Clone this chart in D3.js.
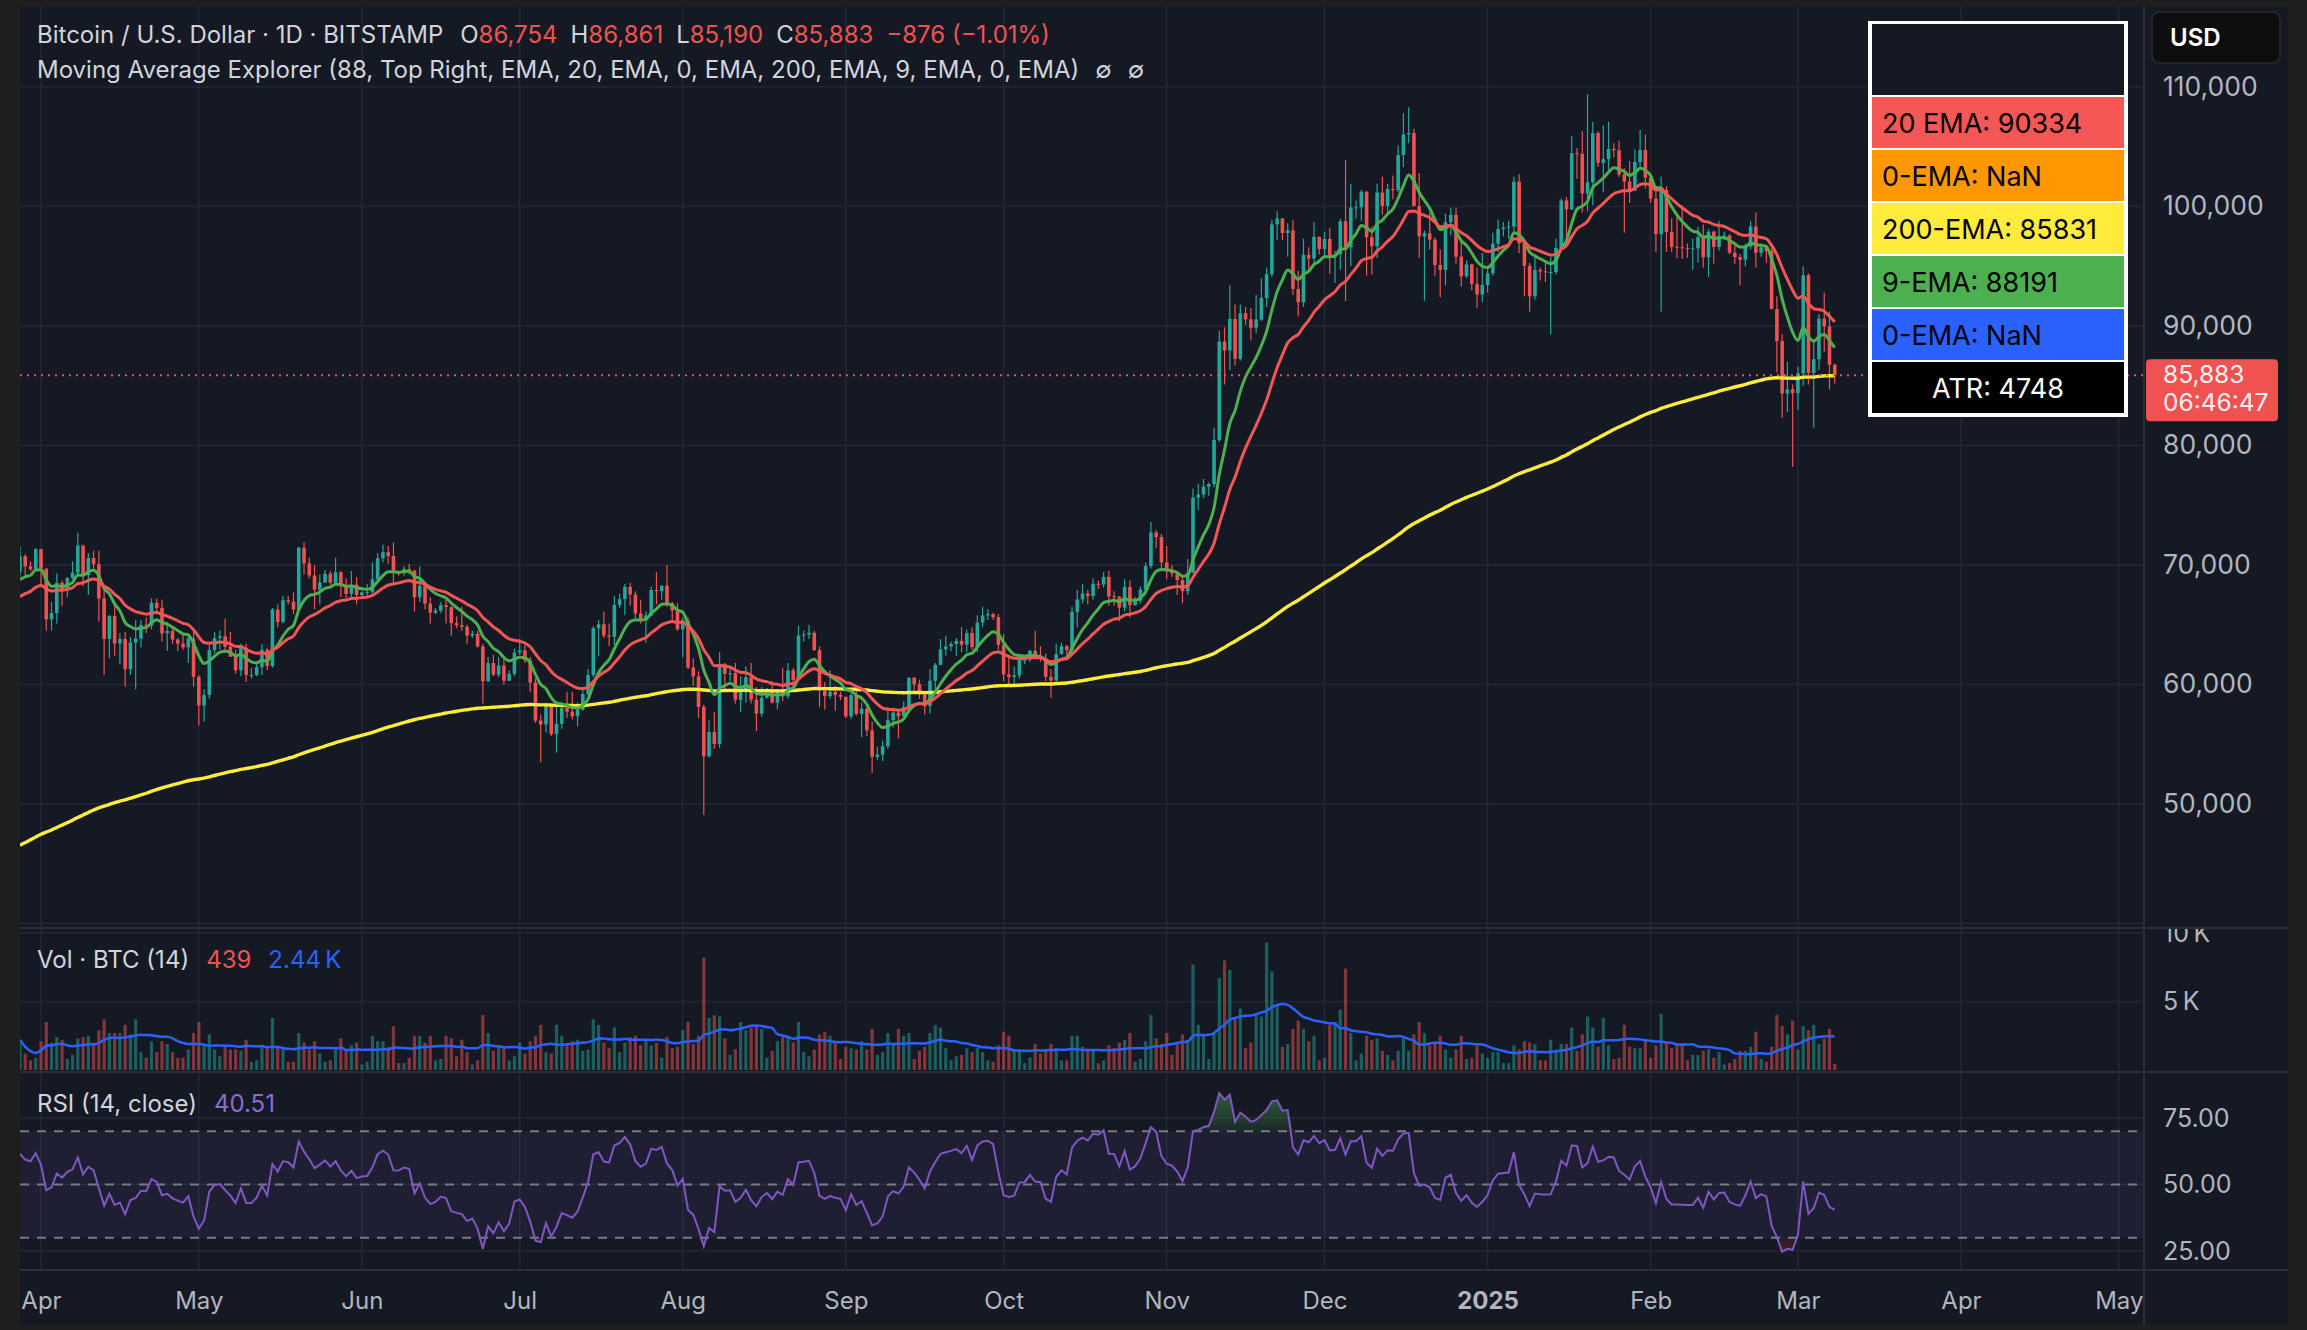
<!DOCTYPE html>
<html>
<head>
<meta charset="utf-8">
<script src="https://cdn.jsdelivr.net/npm/d3@7"></script>
<style>
  html, body { margin: 0; padding: 0; background: #1e1e1f; }
  svg { display: block; font-family: Inter, "Noto Sans", sans-serif; }
</style>
</head>
<body>
<svg id="chart" width="2307" height="1330"></svg>
<script>
// ---- data (daily BTC/USD, Bitstamp, 2024-03-28 .. 2025-03-08), prices in thousands ----
const firstDay = "2024-03-28";
const firstOpen = 69.455;

const closes = [
  // Mar 28-31
  70.74, 69.89, 69.65, 71.33,
  // Apr
  69.70, 65.45, 65.98, 68.51, 67.84, 68.90, 69.36, 71.63, 69.14, 70.59,
  70.06, 67.20, 63.82, 65.74, 63.43, 63.81, 61.28, 63.51, 63.84, 64.99,
  64.93, 66.84, 66.41, 64.28, 64.48, 63.76, 63.42, 63.11, 63.84, 60.64,
  // May
  58.25, 59.12, 62.89, 63.89, 64.03, 63.16, 62.33, 61.19, 63.05, 60.79,
  60.79, 61.45, 62.90, 61.55, 66.27, 65.23, 67.05, 66.94, 66.28, 71.45,
  70.14, 69.12, 67.93, 68.53, 69.27, 68.52, 69.39, 68.30, 67.58, 68.36, 67.49,
  // Jun
  67.71, 67.75, 68.80, 70.57, 71.08, 70.76, 69.34, 69.31, 69.65, 69.54,
  67.31, 68.26, 66.77, 66.01, 66.19, 66.64, 66.49, 65.14, 64.96, 64.83,
  64.10, 64.25, 63.18, 60.28, 61.80, 60.81, 61.60, 60.32, 60.89, 62.68,
  // Jul
  62.85, 62.03, 60.17, 56.98, 56.66, 58.23, 55.86, 56.71, 58.05, 57.73,
  57.34, 57.89, 59.20, 60.80, 64.72, 65.04, 64.09, 63.99, 66.66, 67.14,
  68.17, 67.53, 65.94, 65.37, 65.78, 67.91, 67.81, 68.26, 66.82, 66.20, 64.62,
  // Aug
  65.36, 61.42, 60.68, 58.12, 53.99, 56.03, 55.03, 61.71, 60.88, 60.95,
  58.72, 59.35, 60.61, 58.74, 57.56, 58.89, 59.48, 58.48, 59.49, 59.01,
  61.18, 60.38, 64.09, 64.18, 64.33, 62.88, 59.50, 59.03, 59.39, 59.12, 58.97,
  // Sep
  57.33, 59.11, 57.54, 57.97, 56.16, 53.95, 54.14, 54.84, 57.02, 57.65,
  57.34, 58.13, 60.57, 60.01, 59.18, 58.19, 60.31, 61.65, 62.94, 63.19,
  63.39, 63.65, 63.33, 64.30, 63.14, 65.18, 65.79, 65.89, 65.64, 63.33,
  // Oct
  60.84, 60.63, 60.76, 62.07, 62.09, 62.82, 62.22, 62.16, 60.64, 60.33,
  62.54, 63.21, 62.87, 66.08, 67.12, 67.61, 67.40, 68.42, 68.36, 69.00,
  67.37, 67.36, 66.43, 68.16, 66.64, 67.01, 67.93, 69.91, 72.72, 72.34, 70.22,
  // Nov
  69.48, 69.29, 68.74, 67.81, 69.36, 75.64, 75.90, 76.55, 76.78, 80.47,
  88.70, 87.96, 90.59, 87.25, 91.07, 90.56, 89.85, 90.54, 92.34, 94.34,
  98.50, 99.00, 97.78, 98.01, 93.10, 91.99, 95.96, 95.65, 97.46, 96.45,
  // Dec
  97.28, 95.87, 96.00, 98.77, 96.59, 99.92, 99.93, 101.24, 97.43, 96.68,
  101.17, 100.04, 101.46, 101.37, 104.30, 106.03, 106.14, 100.04, 97.49, 97.76,
  97.23, 95.10, 94.69, 98.68, 99.30, 95.80, 94.16, 95.16, 93.53, 92.64, 93.43,
  // Jan
  94.42, 96.89, 98.11, 98.24, 98.32, 102.08, 96.92, 95.04, 92.49, 94.70,
  94.57, 94.49, 94.52, 96.53, 100.51, 99.76, 104.46, 104.41, 101.09, 102.02,
  106.15, 103.65, 103.96, 104.82, 104.71, 102.68, 102.09, 101.33, 103.73, 104.72, 102.41,
  // Feb
  100.66, 97.69, 101.41, 97.87, 96.62, 96.59, 96.53, 96.48, 96.50, 97.44,
  95.75, 97.89, 96.62, 97.51, 97.57, 96.13, 95.77, 95.54, 96.64, 98.33,
  96.13, 96.58, 96.27, 91.42, 88.74, 84.35, 84.70, 84.37,
  // Mar
  86.03, 94.25, 86.07, 87.22, 90.62, 89.96, 86.754, 85.883
];

const highs = [
  71.55, 70.90, 70.30, 71.40,
  71.30, 69.70, 66.90, 69.30, 68.70, 69.00, 70.30, 72.70, 71.70, 71.00,
  71.20, 71.20, 67.90, 65.80, 66.80, 64.30, 64.40, 64.00, 65.40, 65.40,
  65.60, 67.20, 67.20, 67.10, 65.20, 64.80, 63.90, 64.30, 64.20, 64.60,
  60.80, 59.60, 63.30, 64.40, 64.50, 65.50, 64.40, 62.90, 63.40, 63.40,
  61.40, 61.80, 63.40, 63.10, 66.40, 66.70, 67.40, 67.40, 67.70, 71.50,
  71.90, 70.60, 70.00, 69.20, 69.60, 69.50, 70.60, 69.50, 68.90, 69.50, 69.00,
  67.80, 68.40, 70.20, 71.00, 71.70, 71.60, 71.90, 69.50, 69.90, 70.10,
  69.60, 69.90, 68.40, 67.30, 66.40, 66.90, 67.20, 66.50, 65.70, 66.50,
  65.00, 64.50, 64.50, 63.40, 62.30, 62.50, 62.30, 62.20, 61.20, 63.00,
  63.80, 63.30, 62.30, 60.50, 57.50, 58.50, 58.40, 58.20, 58.30, 59.40,
  59.40, 58.50, 59.80, 61.30, 64.90, 65.40, 66.10, 65.10, 67.40, 67.60,
  68.40, 68.50, 67.80, 67.10, 66.10, 68.20, 69.40, 68.30, 70.00, 66.90, 66.80,
  65.60, 65.60, 62.20, 61.10, 58.30, 57.00, 57.70, 62.70, 61.80, 61.50,
  61.80, 60.70, 61.50, 61.80, 59.80, 59.80, 59.70, 60.30, 59.60, 61.40,
  61.80, 61.40, 64.90, 64.50, 65.00, 64.50, 63.20, 60.20, 61.20, 59.90, 59.40,
  59.00, 59.40, 59.80, 58.50, 58.30, 56.90, 54.80, 55.30, 58.10, 58.00,
  57.90, 58.60, 60.60, 60.60, 60.40, 59.20, 61.30, 61.80, 63.80, 64.10,
  63.60, 63.90, 64.80, 64.60, 64.80, 65.80, 66.50, 66.30, 66.00, 65.90,
  64.20, 62.40, 61.50, 62.50, 62.40, 62.90, 64.50, 63.20, 62.60, 61.30,
  63.40, 63.50, 63.30, 66.50, 67.90, 68.40, 67.90, 68.90, 68.70, 69.40,
  69.50, 67.80, 67.40, 68.80, 68.70, 67.30, 68.20, 70.20, 73.60, 72.90, 72.60,
  71.60, 70.00, 69.40, 69.00, 70.50, 76.40, 76.80, 77.20, 76.90, 81.50,
  89.60, 89.90, 93.40, 91.80, 91.80, 91.60, 91.50, 92.60, 94.00, 94.90,
  98.90, 99.60, 98.90, 98.60, 98.90, 94.60, 97.30, 96.60, 98.70, 97.50,
  97.90, 98.20, 96.30, 99.00, 103.90, 101.90, 100.50, 101.40, 101.30, 98.30,
  101.90, 102.50, 101.90, 102.60, 105.10, 107.80, 108.30, 106.50, 102.80, 98.00,
  99.50, 97.40, 96.40, 99.40, 99.90, 99.90, 97.30, 95.50, 95.20, 94.90, 96.10,
  94.90, 97.80, 98.90, 98.70, 98.80, 102.50, 102.70, 97.20, 95.30, 95.80,
  94.90, 95.30, 95.80, 97.30, 100.70, 100.80, 105.90, 104.90, 106.30, 109.40,
  107.10, 106.30, 106.80, 107.10, 105.30, 105.50, 103.20, 103.80, 104.80, 106.40, 106.00,
  102.80, 101.50, 102.50, 101.70, 99.00, 99.20, 100.10, 96.90, 97.30, 98.30,
  98.50, 98.10, 98.00, 98.80, 97.90, 97.70, 97.00, 96.00, 96.90, 98.80,
  99.50, 96.90, 96.60, 96.50, 92.50, 89.30, 87.00, 85.10,
  86.60, 95.00, 94.40, 88.90, 91.00, 92.80, 91.20, 86.861
];

const lows = [
  68.90, 69.10, 69.50, 69.60,
  68.20, 64.50, 64.50, 65.10, 66.60, 67.30, 68.80, 69.10, 68.20, 67.50,
  69.60, 65.30, 60.80, 62.20, 62.40, 61.70, 59.80, 60.80, 59.60, 63.10,
  64.30, 64.60, 65.90, 63.60, 62.80, 63.40, 62.80, 62.90, 61.80, 59.80,
  56.60, 56.90, 58.80, 62.60, 62.90, 62.80, 62.30, 60.90, 60.70, 60.20,
  60.50, 60.70, 60.80, 61.20, 61.40, 64.80, 65.10, 66.70, 65.90, 66.10,
  69.20, 68.90, 66.30, 66.70, 68.50, 68.30, 68.30, 67.30, 67.20, 67.20, 66.70,
  67.30, 67.30, 67.60, 68.50, 70.20, 70.10, 68.50, 69.10, 69.10, 69.20,
  66.10, 66.90, 66.30, 65.10, 65.90, 66.00, 65.10, 64.10, 64.70, 64.50,
  63.40, 63.90, 63.10, 58.40, 60.20, 60.70, 60.60, 60.00, 60.30, 60.70,
  62.50, 61.80, 59.40, 56.80, 53.50, 56.00, 55.70, 54.30, 56.30, 57.20,
  57.10, 56.50, 57.80, 59.00, 60.60, 62.40, 63.90, 63.20, 63.30, 66.40,
  65.80, 66.60, 65.50, 65.10, 63.50, 65.70, 66.70, 67.10, 66.50, 65.30, 64.50,
  62.30, 61.30, 59.90, 57.20, 49.10, 53.90, 54.60, 54.70, 59.60, 60.30,
  58.40, 57.70, 58.50, 58.40, 56.10, 57.30, 58.80, 58.40, 57.90, 58.60,
  58.80, 59.80, 60.20, 63.60, 63.80, 62.80, 58.10, 57.90, 58.80, 57.80, 58.70,
  57.20, 57.10, 57.40, 55.60, 55.70, 52.60, 53.70, 53.60, 54.60, 56.40,
  55.50, 57.30, 57.60, 59.50, 58.80, 57.50, 57.60, 59.20, 61.60, 62.40,
  62.80, 62.40, 62.70, 62.70, 62.90, 62.70, 64.80, 65.40, 65.40, 62.90,
  60.30, 59.90, 59.80, 60.50, 61.70, 61.90, 62.20, 61.90, 60.30, 58.90,
  60.10, 62.50, 62.00, 62.40, 64.80, 66.80, 66.70, 67.10, 68.00, 68.10,
  66.60, 66.60, 65.30, 66.10, 65.60, 66.60, 66.80, 67.50, 69.70, 71.40, 69.70,
  68.80, 69.00, 67.50, 66.80, 67.50, 69.30, 74.60, 75.60, 75.80, 76.50,
  80.30, 85.10, 86.30, 86.70, 87.10, 90.10, 88.80, 89.40, 90.40, 91.60,
  94.10, 97.20, 97.20, 95.80, 92.60, 90.80, 91.60, 94.70, 95.30, 96.00,
  95.70, 94.40, 93.60, 94.70, 92.10, 95.00, 99.00, 98.80, 94.20, 94.30,
  95.70, 99.30, 99.20, 100.60, 101.20, 103.30, 105.30, 100.00, 95.70, 92.10,
  96.40, 94.20, 92.40, 93.40, 97.60, 95.20, 93.30, 94.00, 93.00, 91.50, 92.00,
  92.80, 94.20, 96.20, 97.50, 97.30, 97.90, 96.10, 92.50, 91.20, 92.20,
  93.80, 93.70, 89.30, 94.30, 96.50, 97.30, 99.70, 102.30, 99.50, 99.60,
  100.10, 103.30, 101.20, 102.80, 104.10, 102.50, 97.80, 100.30, 101.30, 103.30, 101.50,
  100.30, 96.20, 91.20, 96.20, 96.20, 95.70, 95.60, 95.70, 94.70, 95.30,
  94.90, 94.10, 95.20, 96.30, 97.20, 96.00, 95.20, 93.40, 95.00, 96.40,
  94.90, 95.80, 95.30, 91.40, 86.10, 82.30, 82.80, 78.20,
  83.00, 85.00, 85.10, 81.50, 86.30, 87.80, 84.70, 85.19
];

// daily volume, thousands of BTC
const volumes = [
  2.2, 1.2, 0.7, 0.9,
  2.1, 3.5, 2.0, 2.4, 2.2, 0.8, 1.1, 2.3, 2.4, 2.5,
  2.0, 2.9, 3.7, 2.7, 2.7, 2.7, 3.3, 2.6, 3.7, 1.3,
  0.9, 2.1, 1.3, 2.1, 1.9, 1.3, 0.9, 0.9, 1.5, 2.7,
  3.5, 1.8, 2.6, 1.5, 1.0, 1.7, 1.5, 1.5, 1.4, 2.2,
  0.6, 0.7, 1.7, 1.6, 3.8, 1.7, 1.6, 0.6, 0.6, 2.7,
  2.0, 1.5, 2.1, 1.2, 0.6, 0.7, 1.5, 2.3, 1.4, 1.8, 2.0,
  0.4, 0.6, 2.5, 2.1, 2.1, 1.7, 3.2, 0.5, 0.5, 0.9,
  2.5, 2.5, 2.0, 2.5, 0.7, 0.8, 2.5, 2.3, 1.0, 2.2,
  1.3, 0.4, 0.7, 4.0, 2.7, 1.4, 1.7, 1.6, 0.7, 1.0,
  2.0, 1.2, 2.1, 2.5, 3.3, 1.3, 1.2, 3.3, 2.5, 1.9,
  2.1, 2.2, 1.4, 1.5, 3.7, 3.3, 2.0, 1.6, 3.1, 1.3,
  2.0, 2.4, 2.5, 1.8, 2.2, 1.8, 2.0, 0.9, 2.4, 1.6, 1.7,
  2.9, 3.5, 1.9, 2.5, 8.2, 3.8, 4.0, 3.9, 2.3, 1.1,
  1.5, 3.5, 2.9, 3.1, 3.2, 3.0, 0.9, 1.4, 2.1, 2.4,
  2.5, 2.0, 3.5, 1.3, 1.0, 1.5, 2.6, 2.8, 2.5, 2.0, 0.8,
  1.7, 1.6, 1.5, 2.1, 1.5, 3.0, 1.1, 1.3, 2.7, 1.9,
  3.0, 2.5, 2.7, 0.8, 1.4, 1.7, 2.7, 3.3, 3.1, 1.6,
  0.7, 1.0, 1.1, 1.6, 1.3, 1.6, 1.3, 0.7, 0.6, 1.8,
  2.8, 2.5, 1.4, 1.4, 0.5, 0.9, 1.9, 1.2, 1.5, 1.9,
  1.6, 0.7, 0.7, 2.5, 2.5, 1.7, 1.4, 1.4, 0.5, 0.7,
  1.8, 1.6, 2.0, 2.2, 2.7, 0.6, 0.8, 2.1, 4.0, 2.3, 1.9,
  2.7, 1.1, 1.9, 2.6, 2.2, 7.7, 3.3, 2.5, 0.8, 2.7,
  6.7, 8.0, 7.3, 3.7, 4.5, 1.6, 2.0, 4.1, 3.9, 9.3,
  7.2, 4.7, 1.7, 1.9, 3.0, 3.6, 3.0, 2.1, 2.5, 0.7,
  0.9, 3.3, 3.5, 4.4, 7.4, 2.7, 0.7, 1.2, 2.5, 2.2,
  2.3, 1.4, 1.1, 0.7, 1.4, 2.3, 1.4, 2.6, 3.5, 2.7,
  1.8, 1.9, 2.5, 1.5, 0.9, 1.5, 2.5, 0.8, 0.9, 1.8, 1.2,
  0.9, 1.3, 1.3, 0.5, 0.5, 1.8, 1.5, 2.1, 2.0, 1.9,
  0.7, 0.7, 2.2, 1.5, 1.9, 1.9, 3.1, 1.4, 2.6, 3.9,
  3.1, 1.7, 3.8, 1.8, 0.8, 0.9, 3.3, 1.7, 1.6, 1.6, 2.1,
  0.9, 1.8, 4.1, 1.9, 1.6, 1.9, 1.9, 0.7, 1.1, 1.1,
  1.4, 1.5, 0.9, 1.3, 0.4, 0.5, 0.8, 1.4, 1.4, 1.7,
  2.8, 0.8, 0.6, 1.7, 4.0, 3.2, 2.6, 3.6,
  1.5, 3.2, 2.9, 3.3, 1.9, 2.3, 3.0, 0.439
];

// indicator seeds (values on the first visible day)
const emaPeriods = [9, 20, 200];
const emaSeeds = [68.3, 67.0, 46.3];
const emaColors = ["#4caf50", "#f45656", "#ffeb3b"];
const rsiSeedGain = 1.1, rsiSeedLoss = 0.75;

// ticks and texts
const priceTicks = [50000, 60000, 70000, 80000, 90000, 100000, 110000];
const volTicks = [5000, 10000];
const rsiTicks = [25, 50, 75];
const rsiBands = [70, 50, 30];
const headerOHLC = [["O", "86,754"], ["H", "86,861"], ["L", "85,190"], ["C", "85,883"]];
const headerChange = "\u2212876 (\u22121.01%)";
const tableLabels = ["", "20 EMA: 90334", "0-EMA: NaN", "200-EMA: 85831", "9-EMA: 88191", "0-EMA: NaN", "ATR: 4748"];
const tableColors = ["#151924", "#f55656", "#ff9800", "#ffeb3b", "#4caf50", "#2962ff", "#000000"];
const lastPrice = 85883;
const countdown = "06:46:47";

// ---- layout ----
const plotL = 20, plotR = 2144, axisR = 2288;
const mainTop = 7, mainBot = 927, volTop = 929, volBot = 1071, rsiTop = 1073, rsiBot = 1270, timeBot = 1325;
const BG = "#151924", GRID = "#232733", SEP = "#2a2e39", TEXT = "#d1d4dc", AXIS_TEXT = "#b2b5be";
const UP = "#26a69a", DOWN = "#ef5350";
const LEGEND_FS = 24;

const svg = d3.select("#chart");

const start = d3.utcParse("%Y-%m-%d")(firstDay);
const bars = closes.map((c, i) => {
  const o = i === 0 ? firstOpen : closes[i - 1];
  return {
    date: d3.utcDay.offset(start, i),
    open: o * 1000,
    close: c * 1000,
    high: Math.max(highs[i], o, c) * 1000,
    low: Math.min(lows[i], o, c) * 1000,
    volume: volumes[i] * 1000
  };
});

function ema(values, n, seed) {
  const k = 2 / (n + 1);
  let e = seed;
  return values.map(v => (e = v * k + e * (1 - k)));
}

function rsi(values, prev, n, g0, l0) {
  let ag = g0, al = l0, p = prev;
  return values.map(v => {
    const ch = v - p;
    p = v;
    ag = (ag * (n - 1) + Math.max(ch, 0)) / n;
    al = (al * (n - 1) + Math.max(-ch, 0)) / n;
    return 100 - 100 / (1 + ag / al);
  });
}

const emas = emaPeriods.map((n, i) => ema(closes, n, emaSeeds[i]).map(v => v * 1000));
const rsiVals = rsi(closes, firstOpen, 14, rsiSeedGain, rsiSeedLoss);
const volMA = volumes.map((v, i) => d3.mean(volumes.slice(Math.max(0, i - 13), i + 1)) * 1000);

// ---- scales ----
const x = d3.scaleUtc()
  .domain([new Date(Date.UTC(2024, 3, 1)), new Date(Date.UTC(2025, 3, 1))])
  .range([41, 1961]);
const yP = d3.scaleLinear().domain([50000, 110000]).range([804, 87]);
const yV = d3.scaleLinear().domain([0, 10000]).range([1070, 933]);
const yR = d3.scaleLinear().domain([25, 75]).range([1251, 1118]);
const monthTicks = d3.utcMonth.range(new Date(Date.UTC(2024, 3, 1)), new Date(Date.UTC(2025, 4, 2)));

// ---- background ----
svg.append("rect").attr("width", 2307).attr("height", 1330).attr("fill", "#1e1e1f");
svg.append("rect").attr("x", plotL).attr("y", mainTop)
  .attr("width", axisR - plotL).attr("height", timeBot - mainTop).attr("fill", BG);

const defs = svg.append("defs");
function clip(id, y0, y1, x0 = plotL, x1 = plotR) {
  defs.append("clipPath").attr("id", id).append("rect")
    .attr("x", x0).attr("y", y0).attr("width", x1 - x0).attr("height", y1 - y0);
  return `url(#${id})`;
}
const clipMain = clip("clip-main", mainTop, mainBot);
const clipVol = clip("clip-vol", volTop, volBot);
const clipRsi = clip("clip-rsi", rsiTop, rsiBot);
const clipVolAxis = clip("clip-vol-axis", volTop, volBot, plotR, axisR);

// ---- grid ----
const grid = svg.append("g").attr("stroke", GRID).attr("stroke-width", 1.5);
grid.selectAll(".vgrid").data(monthTicks).join("line")
  .attr("x1", d => x(d)).attr("x2", d => x(d))
  .attr("y1", mainTop).attr("y2", rsiBot);
grid.selectAll(".pgrid").data(priceTicks.concat([40000])).join("line")
  .attr("x1", plotL).attr("x2", plotR).attr("y1", d => yP(d)).attr("y2", d => yP(d));
grid.selectAll(".vlgrid").data(volTicks).join("line")
  .attr("x1", plotL).attr("x2", plotR).attr("y1", d => yV(d)).attr("y2", d => yV(d));
grid.selectAll(".rgrid").data(rsiTicks).join("line")
  .attr("x1", plotL).attr("x2", plotR).attr("y1", d => yR(d)).attr("y2", d => yR(d));

// ---- main pane ----
const main = svg.append("g").attr("clip-path", clipMain);
const bw = 3.6;
const candle = main.selectAll(".candle").data(bars).join("g")
  .attr("fill", d => d.close >= d.open ? UP : DOWN)
  .attr("stroke", d => d.close >= d.open ? UP : DOWN);
candle.append("line")
  .attr("x1", d => x(d.date)).attr("x2", d => x(d.date))
  .attr("y1", d => yP(d.high)).attr("y2", d => yP(d.low))
  .attr("stroke-width", 1.2);
candle.append("rect")
  .attr("x", d => x(d.date) - bw / 2).attr("width", bw)
  .attr("y", d => yP(Math.max(d.open, d.close)))
  .attr("height", d => Math.max(1, Math.abs(yP(d.open) - yP(d.close))))
  .attr("stroke", "none");

// EMAs: draw 200 first, then 9, then 20 on top
[2, 0, 1].forEach(k => {
  main.append("path")
    .datum(emas[k])
    .attr("fill", "none")
    .attr("stroke", emaColors[k])
    .attr("stroke-width", k === 2 ? 3.4 : 3)
    .attr("stroke-linejoin", "round")
    .attr("d", d3.line().x((v, i) => x(bars[i].date)).y(v => yP(v)).curve(d3.curveMonotoneX));
});

// last price line
svg.append("line")
  .attr("x1", plotL).attr("x2", plotR)
  .attr("y1", yP(lastPrice)).attr("y2", yP(lastPrice))
  .attr("stroke", DOWN).attr("stroke-width", 2).attr("stroke-dasharray", "2,5");

// ---- volume pane ----
const vol = svg.append("g").attr("clip-path", clipVol);
vol.selectAll("rect").data(bars).join("rect")
  .attr("x", d => x(d.date) - 1.6).attr("width", 3.2)
  .attr("y", d => yV(d.volume)).attr("height", d => yV(0) - yV(d.volume))
  .attr("fill", d => d.close >= d.open ? UP : DOWN)
  .attr("fill-opacity", 0.5);
vol.append("path").datum(volMA)
  .attr("fill", "none").attr("stroke", "#2962ff").attr("stroke-width", 2.5)
  .attr("d", d3.line().x((v, i) => x(bars[i].date)).y(v => yV(v)).curve(d3.curveMonotoneX));

// ---- RSI pane ----
const rp = svg.append("g").attr("clip-path", clipRsi);
rp.append("rect").attr("x", plotL).attr("width", plotR - plotL)
  .attr("y", yR(70)).attr("height", yR(30) - yR(70))
  .attr("fill", "#7e57c2").attr("fill-opacity", 0.1);

const gOb = defs.append("linearGradient").attr("id", "ob").attr("x1", 0).attr("x2", 0)
  .attr("gradientUnits", "userSpaceOnUse").attr("y1", yR(90)).attr("y2", yR(70));
gOb.append("stop").attr("offset", 0).attr("stop-color", "#4caf50").attr("stop-opacity", 0.6);
gOb.append("stop").attr("offset", 1).attr("stop-color", "#4caf50").attr("stop-opacity", 0.1);
const gOs = defs.append("linearGradient").attr("id", "os").attr("x1", 0).attr("x2", 0)
  .attr("gradientUnits", "userSpaceOnUse").attr("y1", yR(30)).attr("y2", yR(10));
gOs.append("stop").attr("offset", 0).attr("stop-color", "#f23645").attr("stop-opacity", 0.1);
gOs.append("stop").attr("offset", 1).attr("stop-color", "#f23645").attr("stop-opacity", 0.6);

rp.append("path").datum(rsiVals).attr("fill", "url(#ob)")
  .attr("d", d3.area().x((v, i) => x(bars[i].date)).y0(yR(70)).y1(v => yR(Math.max(v, 70))));
rp.append("path").datum(rsiVals).attr("fill", "url(#os)")
  .attr("d", d3.area().x((v, i) => x(bars[i].date)).y0(yR(30)).y1(v => yR(Math.min(v, 30))));

rp.selectAll(".band").data(rsiBands).join("line")
  .attr("x1", plotL).attr("x2", plotR).attr("y1", d => yR(d)).attr("y2", d => yR(d))
  .attr("stroke", "#787b86").attr("stroke-width", 2).attr("stroke-dasharray", "9,8");
rp.append("path").datum(rsiVals)
  .attr("fill", "none").attr("stroke", "#7e57c2").attr("stroke-width", 2)
  .attr("d", d3.line().x((v, i) => x(bars[i].date)).y(v => yR(v)));

// ---- separators ----
const sep = svg.append("g").attr("stroke", SEP).attr("stroke-width", 2);
[928, 1072, 1270].forEach(y => sep.append("line").attr("x1", plotL).attr("x2", axisR).attr("y1", y).attr("y2", y));
sep.append("line").attr("x1", plotR).attr("x2", plotR).attr("y1", mainTop).attr("y2", timeBot);

// ---- axes ----
function styleAxis(fs) {
  return g => {
    g.select(".domain").remove();
    g.selectAll("text").attr("fill", AXIS_TEXT).attr("font-size", fs).attr("font-family", "Inter, sans-serif");
  };
}
svg.append("g").attr("transform", `translate(2163,0)`)
  .call(d3.axisRight(yP).tickValues(priceTicks).tickSize(0).tickPadding(0).tickFormat(d3.format(",")))
  .call(styleAxis(26.5));
svg.append("g").attr("clip-path", clipVolAxis).append("g").attr("transform", `translate(2163,0)`)
  .call(d3.axisRight(yV).tickValues(volTicks).tickSize(0).tickPadding(0).tickFormat(d => (d / 1000) + "\u2009K"))
  .call(styleAxis(25));
svg.append("g").attr("transform", `translate(2163,0)`)
  .call(d3.axisRight(yR).tickValues(rsiTicks).tickSize(0).tickPadding(0).tickFormat(d3.format(".2f")))
  .call(styleAxis(25));
svg.append("g").attr("transform", `translate(0,1292)`)
  .call(d3.axisBottom(x).tickValues(monthTicks).tickSize(0).tickPadding(0)
    .tickFormat(d => d.getUTCMonth() === 0 ? d3.utcFormat("%Y")(d) : d3.utcFormat("%b")(d)))
  .call(styleAxis(24))
  .call(g => g.selectAll("text").attr("font-weight", d => d.getUTCMonth() === 0 ? 700 : 400));

// ---- legends ----
const t1 = svg.append("text").attr("x", 37).attr("y", 34).attr("dy", "0.36em")
  .attr("font-size", LEGEND_FS).attr("fill", TEXT);
t1.append("tspan").text("Bitcoin / U.S. Dollar \u00b7 1D \u00b7 BITSTAMP");
headerOHLC.forEach(([k, v], i) => {
  t1.append("tspan").attr("dx", i === 0 ? 17 : 13).text(k);
  t1.append("tspan").attr("fill", DOWN).text(v);
});
t1.append("tspan").attr("dx", 13).attr("fill", DOWN).text(headerChange);

const t2 = svg.append("text").attr("x", 37).attr("y", 69).attr("dy", "0.36em")
  .attr("font-size", LEGEND_FS).attr("fill", TEXT);
t2.append("tspan").text("Moving Average Explorer (88, Top Right, EMA, 20, EMA, 0, EMA, 200, EMA, 9, EMA, 0, EMA)");
t2.append("tspan").attr("dx", 16).text("\u2205");
t2.append("tspan").attr("dx", 16).text("\u2205");

const t3 = svg.append("text").attr("x", 37).attr("y", 959).attr("dy", "0.36em")
  .attr("font-size", LEGEND_FS).attr("fill", TEXT);
t3.append("tspan").text("Vol \u00b7 BTC (14)");
t3.append("tspan").attr("dx", 17).attr("fill", DOWN).text(d3.format("d")(volumes[volumes.length - 1] * 1000));
t3.append("tspan").attr("dx", 17).attr("fill", "#2962ff").text("2.44\u2009K");

const t4 = svg.append("text").attr("x", 37).attr("y", 1103).attr("dy", "0.36em")
  .attr("font-size", LEGEND_FS).attr("fill", TEXT);
t4.append("tspan").text("RSI (14, close)");
t4.append("tspan").attr("dx", 17).attr("fill", "#8c6bd1").text("40.51");

// ---- USD badge and last price tag ----
svg.append("rect").attr("x", 2152).attr("y", 12).attr("width", 128).attr("height", 51).attr("rx", 7)
  .attr("fill", "#0e0e0f").attr("stroke", "#2a2a2c").attr("stroke-width", 1.5);
svg.append("text").attr("x", 2170).attr("y", 37.5).attr("dy", "0.36em")
  .attr("font-size", 24).attr("font-weight", 600).attr("fill", "#ffffff").text("USD");

const tagY = yP(lastPrice);
svg.append("rect").attr("x", 2146).attr("y", tagY - 16).attr("width", 132).attr("height", 62).attr("rx", 4)
  .attr("fill", "#f05252");
svg.append("text").attr("x", 2163).attr("y", tagY - 1).attr("dy", "0.36em")
  .attr("font-size", 24.5).attr("fill", "#fff1f1").text(d3.format(",")(lastPrice));
svg.append("text").attr("x", 2163).attr("y", tagY + 27).attr("dy", "0.36em")
  .attr("font-size", 24.5).attr("fill", "#fff1f1").text(countdown);

// ---- MA table ----
const tbl = svg.append("g");
tbl.append("rect").attr("x", 1868).attr("y", 21).attr("width", 260).attr("height", 396).attr("fill", "#ffffff");
tableLabels.forEach((label, i) => {
  const top = i === 0 ? 24 : 97 + (i - 1) * 53;
  const h = i === 0 ? 71 : 51;
  tbl.append("rect").attr("x", 1872).attr("y", top).attr("width", 252).attr("height", h)
    .attr("fill", tableColors[i]);
  const last = i === tableLabels.length - 1;
  tbl.append("text")
    .attr("x", last ? 1998 : 1882).attr("y", top + h / 2 + 1).attr("dy", "0.36em")
    .attr("text-anchor", last ? "middle" : "start")
    .attr("font-size", 27).attr("fill", last ? "#ffffff" : "#000000")
    .text(label);
});
</script>
</body>
</html>
